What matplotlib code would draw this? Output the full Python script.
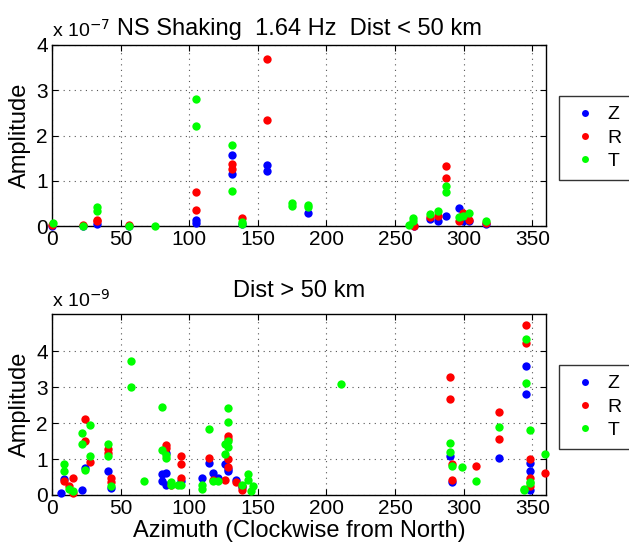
import matplotlib
matplotlib.use('Agg')
import matplotlib.pyplot as plt
from matplotlib.lines import Line2D

plt.rcParams['font.family'] = ['Liberation Sans', 'DejaVu Sans']

# near stations (Dist < 50 km), amplitude in units of 1e-7
near_z_az = [0, 22.8, 33, 56.3, 104.6, 104.6, 131.3, 131.3, 138.6, 156.8, 156.8,
             186.9, 263.5, 275.2, 281.5, 287.1, 296.6, 299.5, 303.9, 316.5]
near_z_amp = [0.01, 0.01, 0.05, 0.01, 0.13, 0.07, 1.57, 1.16, 0.05, 1.35, 1.22,
              0.28, 0.01, 0.15, 0.12, 0.21, 0.39, 0.10, 0.10, 0.05]
near_r_az = [0, 22.8, 33, 33, 56.3, 104.6, 104.6, 131.3, 131.3, 138.6, 156.8, 156.8,
             263.5, 275.2, 281.5, 287.1, 287.1, 296.6, 299.5, 303.9, 316.5]
near_r_amp = [0.02, 0.03, 0.13, 0.10, 0.02, 0.745, 0.36, 1.36, 1.27, 0.17, 3.70, 2.34,
              0.0, 0.20, 0.23, 1.33, 1.05, 0.12, 0.29, 0.14, 0.07]
near_t_az = [1, 22.8, 33, 33, 56.3, 75.2, 104.6, 104.6, 131.3, 131.3, 138.6, 138.6,
             175, 175, 186.9, 186.9, 260, 263, 263, 275.2, 281.5, 287.1, 287.1,
             296.6, 299.5, 303.9, 316.5]
near_t_amp = [0.06, 0.0, 0.43, 0.33, 0.01, 0.0, 2.80, 2.21, 1.78, 0.77, 0.09, 0.04,
              0.50, 0.44, 0.46, 0.41, 0.02, 0.17, 0.10, 0.26, 0.34, 0.88, 0.75,
              0.20, 0.22, 0.29, 0.11]

# far stations (Dist > 50 km), amplitude in units of 1e-9
far_z_az = [6.3, 8.7, 21.6, 24, 40.5, 42.7, 79.8, 79.8, 82.8, 82.8, 82.8, 94, 109,
            114.3, 117.5, 121, 126.2, 128.4, 128.4, 134, 138.6, 291.7, 290, 325.7,
            345.1, 345.1, 348, 348, 348]
far_z_amp = [0.06, 0.45, 0.14, 0.74, 0.68, 0.20, 0.58, 0.39, 1.17, 0.61, 0.29, 0.38,
             0.46, 0.90, 0.61, 0.46, 0.86, 0.73, 0.66, 0.42, 0.22, 0.36, 1.09, 1.02,
             3.58, 2.80, 0.88, 0.66, 0.14]
far_r_az = [8.7, 12.6, 15.3, 15.3, 24, 24, 27.7, 40.5, 40.5, 42.7, 42.7, 82.8, 82.8,
            86.6, 94, 94, 94, 114.3, 117.5, 126.2, 128.4, 128.4, 128.4, 128.4, 134,
            138.6, 138.6, 290, 290, 291.7, 291.7, 309, 325.7, 325.7, 345.1, 345.1,
            348, 348, 348, 359.5]
far_r_amp = [0.39, 0.25, 0.46, 0.06, 2.12, 1.50, 0.92, 1.27, 1.18, 0.46, 0.37, 1.38,
             1.31, 0.27, 1.09, 0.86, 0.47, 1.02, 0.41, 0.43, 1.64, 1.57, 1.01, 0.77,
             0.37, 0.15, 0.24, 3.27, 2.67, 0.86, 0.43, 0.81, 2.31, 1.57, 4.72, 4.23,
             1.00, 0.46, 0.25, 0.62]
far_t_az = [8.7, 8.7, 12.6, 15.3, 21.6, 21.6, 24, 27.7, 27.7, 40.5, 40.5, 42.7,
            57.3, 57.3, 67.2, 79.8, 79.8, 82.8, 82.8, 86.6, 86.6, 92, 94, 109, 109,
            114.3, 117.5, 121, 126.2, 126.2, 128.4, 128.4, 128.4, 128.4, 138.6,
            142.5, 142.5, 144.7, 146.6, 210.4, 290, 290, 291.7, 298.8, 309, 325.7,
            345.1, 345.1, 348, 348, 348, 343.7, 343.7, 359.5]
far_t_amp = [0.85, 0.68, 0.18, 0.12, 1.73, 1.43, 0.70, 1.94, 1.09, 1.43, 1.08, 0.26,
             3.72, 3.01, 0.40, 2.44, 1.25, 1.11, 1.02, 0.35, 0.27, 0.27, 0.27, 0.27,
             0.18, 1.84, 0.39, 0.39, 1.43, 1.15, 2.43, 2.02, 1.50, 1.34, 0.29, 0.58,
             0.42, 0.11, 0.26, 3.08, 1.45, 1.20, 0.81, 0.78, 0.38, 1.88, 4.34, 3.10,
             1.82, 0.37, 0.32, 0.17, 0.14, 1.13]

xticks = [0, 50, 100, 150, 200, 250, 300, 350]


def style_axis(ax, ymax):
    ax.set_xlim(0, 360)
    ax.set_ylim(0, ymax)
    ax.set_xticks(xticks)
    ax.set_yticks([0, 1, 2, 3, 4])
    ax.tick_params(direction='in', top=True, right=True, labelsize=15, length=4, pad=3)
    ax.grid(True, linestyle=(0, (1, 4)), color='#555555', linewidth=0.8)
    ax.set_ylabel('Amplitude', fontsize=17, labelpad=4)
    for s in ax.spines.values():
        s.set_linewidth(1.0)


def plot_set(ax, z, r, t):
    ax.plot(z[0], z[1], 'o', color=(0, 0, 1), ms=6, mec='none', clip_on=False, zorder=3)
    ax.plot(r[0], r[1], 'o', color=(1, 0, 0), ms=6, mec='none', clip_on=False, zorder=3)
    ax.plot(t[0], t[1], 'o', color=(0, 1, 0), ms=6, mec='none', clip_on=False, zorder=3)


def add_legend(top):
    handles = [Line2D([], [], marker='o', ls='none', color=c, ms=5, mec='none')
               for c in [(0, 0, 1), (1, 0, 0), (0, 1, 0)]]
    leg = fig.legend(handles, ['Z', 'R', 'T'], loc='upper left',
                     bbox_to_anchor=(559 / 629, 1 - top / 548), fontsize=14,
                     frameon=True, fancybox=False, edgecolor='black',
                     handletextpad=0.3, labelspacing=0.3, borderpad=0.5,
                     handlelength=1.7, borderaxespad=0)
    leg.get_frame().set_linewidth(1.0)


fig = plt.figure(figsize=(6.29, 5.48), dpi=100)
ax1 = fig.add_axes([52 / 629, 1 - 226 / 548, 494 / 629, 181 / 548])
ax2 = fig.add_axes([52 / 629, 1 - 495 / 548, 494 / 629, 181 / 548])

plot_set(ax1, (near_z_az, near_z_amp), (near_r_az, near_r_amp), (near_t_az, near_t_amp))
style_axis(ax1, 4)
ax1.set_title('NS Shaking  1.64 Hz  Dist < 50 km', fontsize=17, pad=7)
fig.text(52 / 629, 1 - 37 / 548, r'x 10$^{-7}$', fontsize=14)
add_legend(96)

plot_set(ax2, (far_z_az, far_z_amp), (far_r_az, far_r_amp), (far_t_az, far_t_amp))
style_axis(ax2, 5.03)
ax2.set_title('Dist > 50 km', fontsize=17, pad=12)
ax2.set_xlabel('Azimuth (Clockwise from North)', fontsize=17, labelpad=1)
fig.text(52 / 629, 1 - 307 / 548, r'x 10$^{-9}$', fontsize=14)
add_legend(365)

fig.savefig('out.png', dpi=100)
